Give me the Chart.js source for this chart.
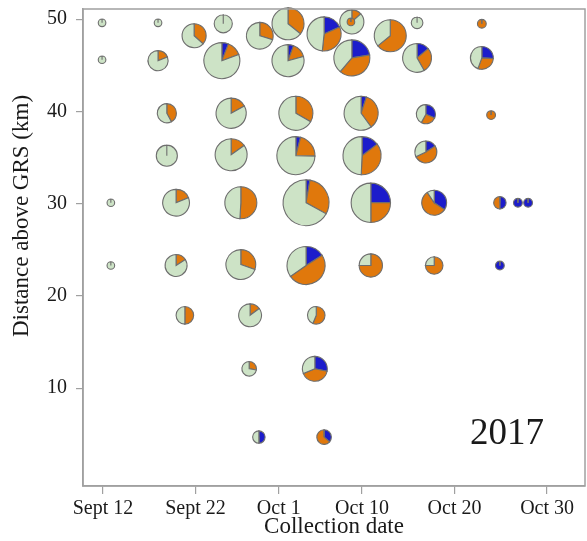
<!DOCTYPE html>
<html><head><meta charset="utf-8">
<script src="https://cdn.jsdelivr.net/npm/chart.js@4.4.1/dist/chart.umd.min.js"></script>
<style>html,body{margin:0;padding:0;background:#fff}</style>
</head><body>
<canvas id="c" width="587" height="541"></canvas>
<script>
// Collection date as day number (Sept 12 = 12, Oct 1 = 31, Oct 10 = 40 ...)
const dates = [11.9, 17.95, 25.0, 32.0, 38.9, 38.8, 45.95, 52.95,
  21.85, 28.95, 35.9, 43.05,
  11.9, 17.95, 24.85, 32.0, 38.9, 45.95, 52.95,
  18.9, 25.85, 32.85, 39.9, 46.9, 53.95,
  18.9, 25.85, 32.85, 40.0, 46.9,
  12.85, 19.9, 26.9, 33.95, 40.95, 47.8, 54.9, 56.85, 57.95,
  12.85, 19.9, 26.9, 33.95, 40.95, 47.8, 54.9,
  20.85, 27.9, 35.05,
  27.8, 34.9,
  28.85, 35.9];
// Distance above GRS (km)
const distance = [49.6, 49.6, 49.5, 49.5, 49.7, 49.7, 49.6, 49.5,
  48.2, 48.2, 48.4, 48.2,
  45.6, 45.5, 45.5, 45.5, 45.8, 45.8, 45.8,
  39.8, 39.8, 39.8, 39.8, 39.7, 39.6,
  35.2, 35.3, 35.2, 35.2, 35.6,
  30.1, 30.1, 30.1, 30.1, 30.1, 30.1, 30.1, 30.1, 30.1,
  23.3, 23.3, 23.4, 23.3, 23.3, 23.3, 23.3,
  17.9, 17.9, 17.9,
  12.1, 12.1,
  4.7, 4.7];
// Counts per category
const blueCount = [0, 0, 0, 0, 0, 0, 0, 0,
  0, 0, 11, 0,
  0, 0, 4, 3, 15, 6, 7,
  0, 0, 0, 3, 6, 0,
  0, 0, 3, 11, 4,
  0, 0, 0, 3, 20, 11, 4, 4, 4,
  0, 0, 0, 12, 0, 0, 4,
  0, 0, 0,
  0, 9,
  4, 4];
const orangeCount = [0, 0, 0, 19, 4, 3, 0, 4,
  11, 11, 20, 34,
  0, 4, 9, 8, 26, 12, 8,
  8, 8, 20, 21, 5, 4,
  0, 8, 16, 27, 13,
  0, 7, 27, 33, 20, 18, 4, 0, 0,
  0, 4, 14, 37, 21, 12, 0,
  8, 4, 9,
  3, 13,
  0, 7];
const greenCount = [3, 3, 17, 34, 26, 0, 7, 0,
  19, 26, 29, 19,
  3, 17, 54, 42, 26, 25, 12,
  11, 39, 40, 36, 8, 0,
  23, 45, 56, 37, 8,
  3, 30, 26, 73, 40, 3, 0, 0, 0,
  3, 21, 32, 26, 7, 4, 0,
  8, 23, 7,
  8, 10,
  4, 0];
const xTickValues = [12, 22, 31, 40, 50, 60];
const xTickLabels = ['Sept 12', 'Sept 22', 'Oct 1', 'Oct 10', 'Oct 20', 'Oct 30'];
const yTickValues = [10, 20, 30, 40, 50];

const COLORS = ['#1c1ccb', '#e0780c', '#cde3c6'];
const SERIF = "'Liberation Serif', 'Times New Roman', serif";
Chart.defaults.font.family = SERIF;
Chart.defaults.color = '#1a1a1a';

const totals = greenCount.map((g, i) => g + orangeCount[i] + blueCount[i]);
const radiusOf = i => 2.2 * Math.sqrt(totals[i]);

const piePlugin = {
  id: 'pies',
  afterDatasetsDraw(chart) {
    const ctx = chart.ctx;
    const meta = chart.getDatasetMeta(0);
    meta.data.forEach((el, i) => {
      const cx = el.x, cy = el.y, r = radiusOf(i);
      const parts = [blueCount[i], orangeCount[i], greenCount[i]];
      let a = -Math.PI / 2;
      ctx.save();
      ctx.lineWidth = 1.1;
      ctx.strokeStyle = '#6e6e6e';
      parts.forEach((p, k) => {
        const e = a + (p / totals[i]) * Math.PI * 2;
        ctx.beginPath();
        ctx.moveTo(cx, cy);
        ctx.arc(cx, cy, r, a, e);
        ctx.closePath();
        if (p > 0) { ctx.fillStyle = COLORS[k]; ctx.fill(); }
        ctx.stroke();
        a = e;
      });
      ctx.restore();
    });
  }
};

const framePlugin = {
  id: 'frame',
  afterDraw(chart) {
    const {ctx, chartArea: ca} = chart;
    ctx.save();
    ctx.strokeStyle = '#a0a0a0';
    ctx.lineWidth = 1.5;
    ctx.strokeRect(ca.left, ca.top, ca.right - ca.left, ca.bottom - ca.top);
    ctx.fillStyle = '#1a1a1a';
    ctx.textAlign = 'center';
    ctx.textBaseline = 'middle';
    ctx.font = '23px ' + SERIF;
    ctx.translate(22, 216);
    ctx.rotate(-Math.PI / 2);
    ctx.fillText('Distance above GRS (km)', 0, 0);
    ctx.restore();
    ctx.save();
    ctx.fillStyle = '#1a1a1a';
    ctx.textAlign = 'center';
    ctx.textBaseline = 'middle';
    ctx.font = '37px ' + SERIF;
    ctx.fillText('2017', 507, 434);
    ctx.restore();
  }
};

const zeroPad = s => { s.paddingLeft = 0; s.paddingRight = 0; s.paddingTop = 0; s.paddingBottom = 0; };

new Chart(document.getElementById('c'), {
  type: 'scatter',
  data: {
    datasets: [{
      data: dates.map((d, i) => ({x: d, y: distance[i]})),
      pointRadius: 0,
      pointHoverRadius: 0,
      backgroundColor: 'rgba(0,0,0,0)',
      borderColor: 'rgba(0,0,0,0)',
      borderWidth: 0
    }]
  },
  options: {
    responsive: false,
    animation: false,
    events: [],
    layout: {padding: {top: 9, right: 2, left: 0, bottom: 0}},
    plugins: {legend: {display: false}, tooltip: {enabled: false}},
    scales: {
      x: {
        type: 'linear', position: 'bottom', min: 9.84, max: 64.1,
        afterBuildTicks: s => { s.ticks = xTickValues.map(v => ({value: v})); },
        afterFit: s => { s.height = 55; zeroPad(s); },
        grid: {drawOnChartArea: false, drawTicks: true, tickLength: 8, color: '#a0a0a0', lineWidth: 1.2},
        border: {display: true, color: '#a0a0a0', width: 1.5},
        ticks: {
          autoSkip: false, maxRotation: 0, padding: 3,
          font: {size: 20},
          callback: (v, i) => xTickLabels[i]
        },
        title: {display: true, text: 'Collection date', font: {size: 23}, padding: {top: 0, bottom: 0}}
      },
      y: {
        type: 'linear', min: -0.6, max: 51.1,
        afterBuildTicks: s => { s.ticks = yTickValues.map(v => ({value: v})); },
        afterFit: s => { s.width = 83; zeroPad(s); },
        grid: {drawOnChartArea: false, drawTicks: true, tickLength: 7, color: '#a0a0a0', lineWidth: 1.2},
        border: {display: true, color: '#a0a0a0', width: 1.5},
        ticks: {padding: 9, font: {size: 20}, callback: v => String(v)}
      }
    }
  },
  plugins: [piePlugin, framePlugin]
});
</script>
</body></html>
